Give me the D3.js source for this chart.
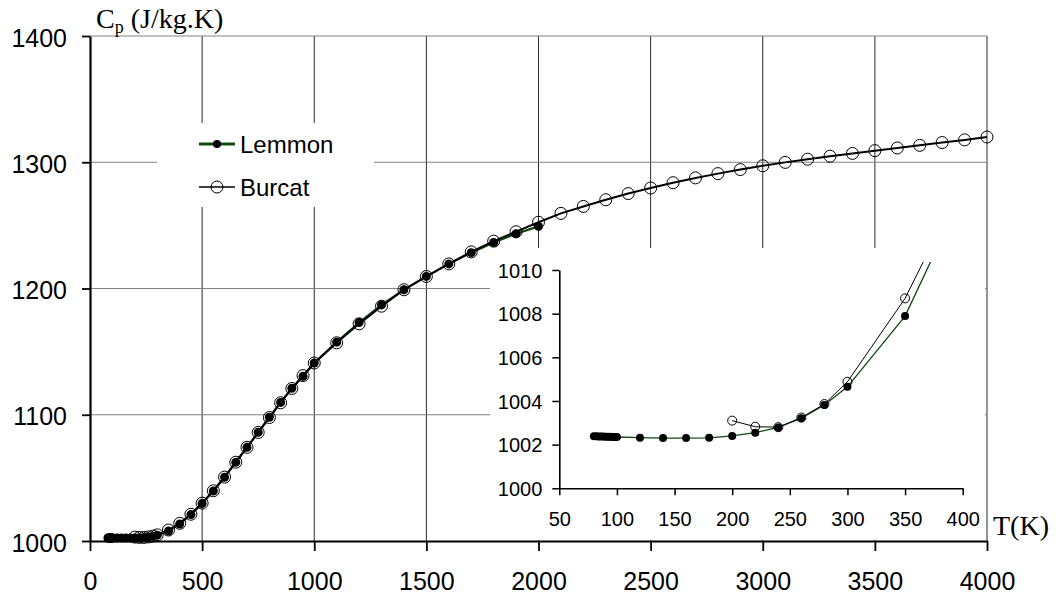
<!DOCTYPE html>
<html>
<head>
<meta charset="utf-8">
<script src="https://cdn.jsdelivr.net/npm/d3@7"></script>
<style>
  body { margin: 0; background: #fff; }
  svg { display: block; }
  .tick text { font-family: "Liberation Sans", Arial, sans-serif; fill: #000; }
</style>
</head>
<body>
<svg id="chart" width="1063" height="596"></svg>
<script>
// Lemmon (filled dots) - temperature in K, cp in J/kg.K
var lemmonT = [80, 82, 84, 86, 88, 90, 92, 94, 96, 98, 100, 120, 140, 160, 180, 200, 220, 240, 260, 280, 300,
  350, 400, 450, 500, 550, 600, 650, 700, 750, 800, 850, 900, 950, 1000,
  1100, 1200, 1300, 1400, 1500, 1600, 1700, 1800, 1900, 2000];
var lemmonCp = [1002.38, 1002.38, 1002.37, 1002.37, 1002.37, 1002.36, 1002.36, 1002.36, 1002.35, 1002.35, 1002.35,
  1002.32, 1002.30, 1002.30, 1002.31, 1002.40, 1002.55, 1002.79, 1003.21, 1003.82, 1004.65,
  1007.89, 1013.5, 1020.9, 1029.7, 1039.6, 1050.5, 1062.3, 1074.2, 1086.1, 1098.0, 1109.8, 1121.0, 1130.5, 1141.0,
  1157.5, 1173.0, 1187.0, 1199.0, 1209.6, 1219.5, 1228.4, 1236.4, 1243.4, 1249.2];

// Burcat (open circles)
var burcatT = [200, 220, 240, 260, 280, 300, 350, 400, 450, 500, 550, 600, 650, 700, 750, 800, 850, 900, 950, 1000,
  1100, 1200, 1300, 1400, 1500, 1600, 1700, 1800, 1900, 2000, 2100, 2200, 2300, 2400, 2500,
  2600, 2700, 2800, 2900, 3000, 3100, 3200, 3300, 3400, 3500, 3600, 3700, 3800, 3900, 4000];
var burcatCp = [1003.10, 1002.82, 1002.80, 1003.24, 1003.86, 1004.88, 1008.70, 1014.0, 1021.2, 1030.0, 1039.8,
  1050.6, 1062.4, 1074.2, 1086.0, 1097.8, 1109.5, 1120.8, 1131.0, 1141.0,
  1157.0, 1172.0, 1186.0, 1199.0, 1209.5, 1219.5, 1229.0, 1237.5, 1245.0, 1252.5, 1259.5, 1265.0, 1270.3, 1275.2, 1279.6,
  1283.8, 1287.6, 1291.0, 1294.2, 1297.2, 1299.9, 1302.4, 1304.8, 1307.0, 1309.2, 1311.3, 1313.4, 1315.6, 1317.7, 1320.0];

var xTicks = [0, 500, 1000, 1500, 2000, 2500, 3000, 3500, 4000];
var yTicks = [1000, 1100, 1200, 1300, 1400];
var insetXTicks = [50, 100, 150, 200, 250, 300, 350, 400];
var insetYTicks = [1000, 1002, 1004, 1006, 1008, 1010];
var legendNames = ["Lemmon", "Burcat"];

var green = "#0b4a0b";
var lemmon = lemmonT.map(function(t, i) { return { t: t, cp: lemmonCp[i] }; });
var burcat = burcatT.map(function(t, i) { return { t: t, cp: burcatCp[i] }; });

var svg = d3.select("#chart");
var fmt = d3.format("d");

var x = d3.scaleLinear().domain([0, 4000]).range([90, 987]);
var y = d3.scaleLinear().domain([1000, 1400]).range([541, 36]);

// grid
svg.append("g").selectAll("line").data(xTicks.slice(1)).enter().append("line")
  .attr("x1", function(d) { return x(d); }).attr("x2", function(d) { return x(d); })
  .attr("y1", y(1400)).attr("y2", y(1000))
  .attr("stroke", "#2a2a2a").attr("stroke-width", 1);
svg.append("g").selectAll("line").data(yTicks.slice(1)).enter().append("line")
  .attr("x1", x(0)).attr("x2", x(4000))
  .attr("y1", function(d) { return y(d); }).attr("y2", function(d) { return y(d); })
  .attr("stroke", "#808080").attr("stroke-width", 1);

// white boxes behind the legend and the inset
svg.append("rect").attr("x", 157).attr("y", 123).attr("width", 217).attr("height", 84).attr("fill", "#fff");
svg.append("rect").attr("x", 490).attr("y", 248).attr("width", 495).attr("height", 292).attr("fill", "#fff");

// main series
var line = d3.line().x(function(d) { return x(d.t); }).y(function(d) { return y(d.cp); });
svg.append("path").datum(lemmon).attr("d", line)
  .attr("fill", "none").attr("stroke", green).attr("stroke-width", 2.2);
svg.append("path").datum(burcat).attr("d", line)
  .attr("fill", "none").attr("stroke", "#000").attr("stroke-width", 2);
svg.append("g").selectAll("circle").data(burcat).enter().append("circle")
  .attr("cx", function(d) { return x(d.t); }).attr("cy", function(d) { return y(d.cp); })
  .attr("r", 6).attr("fill", "none").attr("stroke", "#000").attr("stroke-width", 1);
svg.append("g").selectAll("circle").data(lemmon).enter().append("circle")
  .attr("cx", function(d) { return x(d.t); }).attr("cy", function(d) { return y(d.cp); })
  .attr("r", 4.5).attr("fill", "#000");

// main axes
var gx = svg.append("g").attr("transform", "translate(0," + y(1000) + ")")
  .call(d3.axisBottom(x).tickValues(xTicks).tickFormat(fmt).tickSize(10).tickSizeOuter(0).tickPadding(21));
var gy = svg.append("g").attr("transform", "translate(" + x(0) + ",0)")
  .call(d3.axisLeft(y).tickValues(yTicks).tickFormat(fmt).tickSize(8).tickSizeOuter(0).tickPadding(15));
[gx, gy].forEach(function(g) {
  g.select(".domain").attr("stroke", "#000").attr("stroke-width", 2.2);
  g.selectAll(".tick line").attr("stroke", "#000").attr("stroke-width", 1.8);
  g.selectAll(".tick text").style("font-size", "25px");
});
gy.selectAll(".tick text").attr("dy", "0.4em");

var ylab = svg.append("text").attr("x", 96).attr("y", 28)
  .style("font-family", "'Liberation Serif', 'Times New Roman', serif").style("font-size", "28px");
ylab.append("tspan").text("C");
ylab.append("tspan").attr("dy", 5).style("font-size", "18px").text("p");
ylab.append("tspan").attr("dy", -5).text(" (J/kg.K)");

svg.append("text").attr("x", 993).attr("y", 535)
  .style("font-family", "'Liberation Serif', 'Times New Roman', serif").style("font-size", "28px")
  .text("T(K)");

// legend
var leg = svg.append("g");
leg.append("line").attr("x1", 199).attr("x2", 235).attr("y1", 144).attr("y2", 144)
  .attr("stroke", green).attr("stroke-width", 3);
leg.append("circle").attr("cx", 217).attr("cy", 144).attr("r", 4).attr("fill", "#000");
leg.append("line").attr("x1", 199).attr("x2", 235).attr("y1", 187).attr("y2", 187)
  .attr("stroke", "#000").attr("stroke-width", 1.5);
leg.append("circle").attr("cx", 217).attr("cy", 187).attr("r", 6)
  .attr("fill", "none").attr("stroke", "#000").attr("stroke-width", 1);
leg.selectAll("text").data(legendNames).enter().append("text")
  .attr("x", 240).attr("y", function(d, i) { return 153 + i * 43; })
  .style("font-family", "'Liberation Sans', Arial, sans-serif").style("font-size", "24px")
  .text(function(d) { return d; });

// inset
var ix = d3.scaleLinear().domain([50, 400]).range([559.3, 962.7]);
var iy = d3.scaleLinear().domain([1000, 1010]).range([488.3, 270]);

svg.append("clipPath").attr("id", "insetClip").append("rect")
  .attr("x", 559.3).attr("y", 262).attr("width", 403.4).attr("height", 226.3);

var iline = d3.line().x(function(d) { return ix(d.t); }).y(function(d) { return iy(d.cp); });
var lemmonIn = lemmon.filter(function(d) { return d.t <= 400; });
var burcatIn = burcat.filter(function(d) { return d.t <= 400; });
var ig = svg.append("g").attr("clip-path", "url(#insetClip)");
ig.append("path").datum(lemmonIn).attr("d", iline)
  .attr("fill", "none").attr("stroke", green).attr("stroke-width", 1.3);
ig.append("path").datum(burcatIn).attr("d", iline)
  .attr("fill", "none").attr("stroke", "#000").attr("stroke-width", 1);
ig.selectAll("circle.b").data(burcatIn).enter().append("circle").attr("class", "b")
  .attr("cx", function(d) { return ix(d.t); }).attr("cy", function(d) { return iy(d.cp); })
  .attr("r", 4.5).attr("fill", "none").attr("stroke", "#000").attr("stroke-width", 1);
ig.selectAll("circle.l").data(lemmonIn).enter().append("circle").attr("class", "l")
  .attr("cx", function(d) { return ix(d.t); }).attr("cy", function(d) { return iy(d.cp); })
  .attr("r", 4).attr("fill", "#000");

var igx = svg.append("g").attr("transform", "translate(0," + iy(1000) + ")")
  .call(d3.axisBottom(ix).tickValues(insetXTicks).tickFormat(fmt).tickSize(7).tickSizeOuter(0).tickPadding(17));
var igy = svg.append("g").attr("transform", "translate(" + ix(50) + ",0)")
  .call(d3.axisLeft(iy).tickValues(insetYTicks).tickFormat(fmt).tickSize(7).tickSizeOuter(0).tickPadding(10));
[igx, igy].forEach(function(g) {
  g.select(".domain").attr("stroke", "#000").attr("stroke-width", 1.6);
  g.selectAll(".tick line").attr("stroke", "#000").attr("stroke-width", 1.5);
  g.selectAll(".tick text").style("font-size", "20px");
});
igy.selectAll(".tick text").attr("dy", "0.36em");
</script>
</body>
</html>
